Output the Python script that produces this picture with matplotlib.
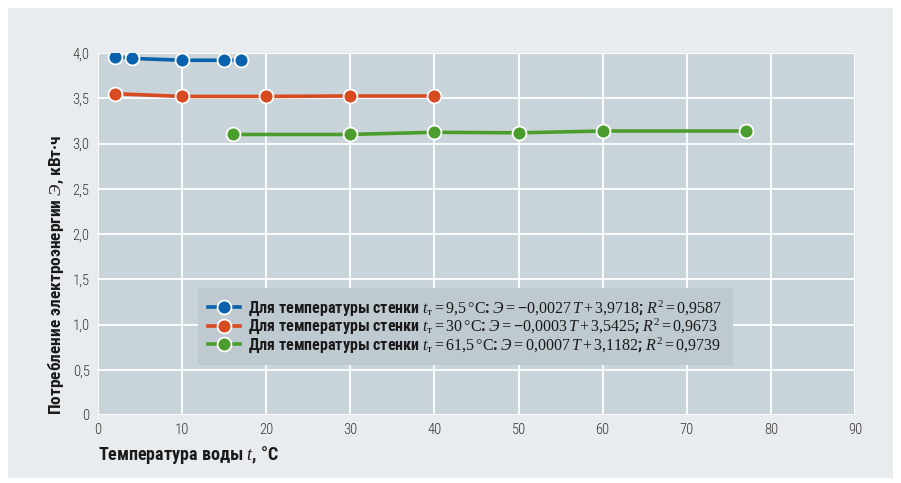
import matplotlib
matplotlib.use("Agg")
import matplotlib.pyplot as plt
from matplotlib import font_manager as fm
from matplotlib.patches import Rectangle

# ---- data ----
blue_x = [2, 4, 10, 15, 17]
blue_y = [3.96, 3.94, 3.92, 3.92, 3.92]
red_x = [2, 10, 20, 30, 40]
red_y = [3.55, 3.52, 3.52, 3.525, 3.525]
green_x = [16, 30, 40, 50, 60, 77]
green_y = [3.10, 3.10, 3.124, 3.118, 3.138, 3.138]

labels = [
    r"Для температуры стенки $t_{\mathrm{т}} = 9{,}5\,°\mathrm{C}$: $\mathit{Э} = \mathbf{-}0{,}0027\,T + 3{,}9718$; $R^2 = 0{,}9587$",
    r"Для температуры стенки $t_{\mathrm{т}} = 30\,°\mathrm{C}$: $\mathit{Э} = \mathbf{-}0{,}0003\,T + 3{,}5425$; $R^2 = 0{,}9673$",
    r"Для температуры стенки $t_{\mathrm{т}} = 61{,}5\,°\mathrm{C}$: $\mathit{Э} = 0{,}0007\,T + 3{,}1182$; $R^2 = 0{,}9739$",
]
xticks = [0, 10, 20, 30, 40, 50, 60, 70, 80, 90]
yticks = [0, 0.5, 1.0, 1.5, 2.0, 2.5, 3.0, 3.5, 4.0]
yticklabels = ["0", "0,5", "1,0", "1,5", "2,0", "2,5", "3,0", "3,5", "4,0"]
colors = ["#0a62ad", "#d84a20", "#4b9e2e"]

# ---- fonts ----
names = {f.name for f in fm.fontManager.ttflist}
sans = "Roboto"
for cand in ["Roboto Condensed", "PT Sans Narrow", "Fira Sans Condensed",
             "IBM Plex Sans Condensed", "Open Sans Condensed", "Liberation Sans Narrow"]:
    if cand in names:
        sans = cand
        break
fam = [sans, "DejaVu Sans"]
plt.rcParams["font.family"] = fam
plt.rcParams["mathtext.fontset"] = "custom"
plt.rcParams["mathtext.rm"] = "Liberation Serif"
plt.rcParams["mathtext.it"] = "Liberation Serif:italic"
plt.rcParams["mathtext.bf"] = "Liberation Serif:bold"

fig = plt.figure(figsize=(9.01, 4.83), dpi=100, facecolor="white")
fig.patches.append(Rectangle((8 / 901, 5 / 483), 885 / 901, 470 / 483,
                             transform=fig.transFigure, facecolor="#e8ecef",
                             edgecolor="none", zorder=-10))
ax = fig.add_axes([98 / 901, 68 / 483, 757 / 901, 362 / 483])
ax.set_zorder(5)
ax.set_facecolor("#c9d3da")
for s in ax.spines.values():
    s.set_visible(False)
ax.grid(True, color="white", linewidth=1.3)
ax.set_axisbelow(True)

for xs, ys, c, lab in zip([blue_x, red_x, green_x], [blue_y, red_y, green_y], colors, labels):
    ax.plot(xs, ys, color=c, linewidth=2.6, marker="o", markersize=10,
            markeredgecolor="white", markeredgewidth=1.3, label=lab, zorder=3)

ax.set_xlim(0, 90)
ax.set_ylim(0, 4.0)
ax.set_xticks(xticks)
ax.set_xticklabels([str(v) for v in xticks])
ax.set_yticks(yticks)
ax.set_yticklabels(yticklabels)
ax.tick_params(length=0, labelsize=10.5, labelcolor="#333333", pad=6)
for lab in ax.get_xticklabels() + ax.get_yticklabels():
    lab.set_fontweight("light")

ax.set_xlabel(r"Температура воды $\mathit{t}$, °C", fontsize=13, fontweight="bold",
              color="#1a1a1a", loc="left", labelpad=5)
ax.set_ylabel(r"Потребление электроэнергии $\mathit{Э}$, кВт·ч", fontsize=12.5,
              fontweight="bold", color="#1a1a1a", loc="bottom", labelpad=5)

leg = ax.legend(loc="upper left", bbox_to_anchor=(0.132, 0.351), frameon=True,
                fancybox=False, facecolor="#bfc9d0", edgecolor="none", framealpha=1,
                handlelength=2.0, handletextpad=0.5, borderpad=0.65, labelspacing=-0.05,
                borderaxespad=0,
                prop={"family": fam, "weight": "bold", "size": 11.5})
for t in leg.get_texts():
    t.set_color("#1a1a1a")

fig.savefig("out.png", dpi=100, facecolor=fig.get_facecolor())
